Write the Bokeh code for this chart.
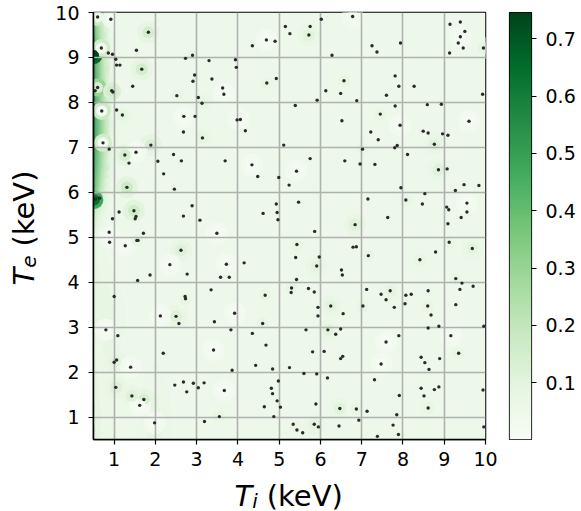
import numpy as np
from bokeh.plotting import figure
from bokeh.models import LinearColorMapper, FixedTicker, Range1d, ColumnDataSource
from bokeh.layouts import row, column
from bokeh.palettes import Greens256
from bokeh.core.properties import value
from bokeh.embed import file_html
from bokeh.resources import INLINE

# ---- sampled (Ti, Te) points in keV ----
ti = [0.60, 0.92, 1.83, 0.69, 0.86, 0.96, 1.54, 2.90, 2.73, 1.04, 1.06, 1.14, 1.67, 3.30, 3.94, 3.96,
      2.95, 2.91, 3.37, 1.45, 0.60, 0.54, 0.94, 0.97, 2.52, 3.63, 3.66, 3.04, 3.13, 4.70, 4.93, 5.15,
      5.26, 4.35, 4.69, 4.90, 0.70, 1.06, 1.20, 2.69, 2.96, 3.98, 4.06, 4.18, 2.68, 3.14, 0.73, 0.88,
      1.89, 5.11, 1.26, 1.53, 2.44, 2.63, 2.06, 1.36, 3.69, 4.34, 4.48, 2.20, 4.99, 5.24, 1.31, 2.46,
      0.65, 0.55, 2.89, 4.93, 4.95, 4.61, 4.97, 1.12, 1.48, 1.53, 1.51, 0.96, 2.68, 3.08,
      6.78, 6.02, 5.75, 5.72, 7.25, 7.37, 7.94, 6.28, 9.14, 9.39, 9.50, 9.39, 9.34, 9.46, 9.13, 9.95,
      6.57, 6.13, 6.49, 6.88, 5.92, 7.81, 7.90, 8.27, 7.60, 9.93, 5.39, 6.52, 7.81, 7.45, 7.93, 7.22,
      7.40, 7.86, 7.80, 8.59, 8.93, 9.60, 8.49, 8.61, 8.96, 9.09, 8.76, 5.75, 5.42, 6.59, 6.96, 7.32,
      8.11, 8.86, 9.07, 7.95, 9.48, 9.84, 9.27, 8.53, 5.47, 7.15, 8.07, 8.47, 9.06, 9.11, 9.55, 9.55,
      9.41, 7.63, 6.84, 9.09, 7.02,
      0.88, 1.71, 3.49, 0.89, 1.27, 1.55, 1.58, 2.62, 2.35, 2.77, 1.87, 1.57, 3.72, 4.15, 3.58, 3.79,
      3.35, 2.72, 2.73, 1.00, 5.30, 5.29, 4.66, 2.12, 2.50, 2.57, 3.92, 3.43, 0.80, 1.09, 2.19, 3.83,
      4.35, 4.60, 4.68, 3.41, 1.06, 1.00, 1.40, 3.86, 4.43, 4.84, 5.25, 2.47, 2.68, 2.92, 2.76, 3.04,
      3.18, 3.67, 4.98, 4.81, 4.84, 4.95, 4.64, 5.03, 1.04, 1.43, 1.72, 1.62, 1.98, 3.19, 3.55, 4.87,
      5.86, 5.43, 5.40, 5.97, 5.91, 5.42, 6.79, 6.87, 7.16, 6.51, 6.53, 8.79, 8.41, 9.12, 9.68, 9.28,
      9.43, 9.70, 9.38, 5.71, 5.85, 5.94, 5.94, 6.25, 6.55, 7.12, 7.47, 7.69, 7.59, 7.79, 7.03, 8.07,
      8.20, 8.05, 8.61, 8.60, 8.68, 9.28, 5.65, 6.18, 6.37, 6.49, 5.81, 6.09, 6.49, 6.54, 7.59, 7.90,
      8.61, 8.87, 9.16, 9.35, 9.96, 8.44, 8.53, 8.63, 8.89, 7.47, 5.60, 5.91, 6.17, 7.31, 7.91, 8.44,
      8.51, 8.76, 8.87, 9.94, 5.89, 6.47, 6.87, 7.13, 7.85, 8.61, 6.93, 7.76, 7.89, 7.38, 5.34, 5.43,
      5.57, 5.85, 5.95, 6.45, 9.96]
te = [9.90, 9.85, 9.56, 9.21, 9.10, 9.07, 9.16, 9.05, 8.98, 8.96, 8.83, 8.83, 8.74, 8.93, 8.95, 8.78,
      8.61, 8.47, 8.52, 8.36, 8.33, 8.26, 8.26, 8.23, 8.15, 8.32, 8.18, 8.11, 7.98, 8.43, 8.53, 9.69,
      9.53, 9.26, 9.39, 9.36, 7.81, 7.83, 7.72, 7.69, 7.69, 7.61, 7.62, 7.37, 7.34, 7.21, 7.10, 6.96,
      7.05, 7.05, 6.83, 6.89, 6.84, 6.70, 6.69, 6.65, 6.70, 6.61, 6.35, 6.41, 6.33, 6.16, 6.11, 6.07,
      5.87, 5.85, 5.70, 5.74, 5.55, 5.53, 5.39, 5.56, 5.59, 5.46, 5.41, 5.41, 5.47, 5.38,
      9.91, 9.85, 9.69, 9.50, 9.26, 9.12, 9.32, 9.05, 9.74, 9.79, 9.58, 9.46, 9.32, 9.21, 9.10, 9.21,
      8.48, 8.26, 8.20, 8.04, 8.05, 8.59, 8.36, 8.36, 8.16, 8.18, 7.93, 7.59, 7.92, 7.74, 7.49, 7.34,
      7.17, 7.04, 6.99, 7.95, 7.96, 7.58, 7.36, 7.32, 7.30, 7.27, 7.07, 6.75, 6.47, 6.70, 6.63, 6.62,
      6.84, 6.50, 6.52, 6.10, 6.17, 6.15, 6.04, 5.97, 5.78, 5.85, 5.83, 5.74, 5.67, 5.61, 5.76, 5.56,
      5.44, 5.44, 5.28, 5.30, 6.96,
      5.11, 5.09, 5.09, 4.89, 4.81, 4.93, 4.93, 4.71, 4.39, 4.18, 4.16, 4.04, 4.40, 4.43, 4.11, 4.11,
      3.83, 3.68, 3.63, 3.68, 3.87, 3.77, 3.71, 3.25, 3.24, 3.08, 3.31, 3.12, 2.94, 2.81, 2.42, 2.94,
      2.86, 3.08, 2.60, 2.49, 2.27, 2.22, 2.11, 2.04, 2.15, 2.07, 2.10, 1.71, 1.78, 1.75, 1.56, 1.65,
      1.76, 1.59, 1.80, 1.64, 1.52, 1.36, 1.23, 1.22, 1.66, 1.47, 1.39, 1.26, 0.87, 0.90, 1.01, 1.01,
      5.13, 4.84, 4.55, 4.56, 4.36, 4.06, 4.78, 4.79, 4.59, 4.27, 4.16, 4.67, 4.50, 4.89, 4.75, 4.08,
      3.98, 3.91, 3.84, 3.86, 3.78, 3.44, 3.25, 3.47, 3.30, 3.84, 3.73, 3.81, 3.61, 3.44, 3.47, 3.71,
      3.73, 3.52, 3.81, 3.47, 3.27, 3.50, 2.94, 2.94, 2.84, 2.96, 2.45, 2.46, 2.30, 2.35, 2.67, 2.81,
      2.98, 3.02, 2.81, 2.42, 3.02, 2.33, 2.21, 2.06, 2.30, 2.18, 1.97, 1.96, 1.87, 1.83, 1.48, 1.64,
      1.47, 1.61, 1.67, 1.60, 1.29, 1.19, 1.18, 1.13, 1.05, 1.20, 0.93, 0.82, 0.61, 0.57, 0.84, 0.71,
      0.65, 0.84, 0.78, 0.80, 0.78]

# ---- field on a coarse (Ti, Te) mesh ----
field_ti = [0.5, 0.55, 0.6, 0.7, 0.8, 0.9, 1.0, 1.2, 1.5, 2.0, 2.5, 3.0, 10.0]
field_te = [0.5, 1.0, 1.5, 2.0, 2.5, 3.0, 3.5, 4.0, 4.5, 5.0,
            5.5, 6.0, 6.5, 7.0, 7.5, 8.0, 8.5, 9.0, 9.5, 10.0]
field_bg = 0.045
# values for Ti = 0.5 ... 2.5, one row per Te level (bottom to top)
edge_rows = [
    [0.14, 0.11, 0.09, 0.075, 0.07, 0.065, 0.06, 0.055, 0.06, 0.09, 0.05],
    [0.11, 0.095, 0.085, 0.075, 0.065, 0.06, 0.06, 0.05, 0.05, 0.085, 0.05],
    [0.09, 0.085, 0.08, 0.07, 0.065, 0.06, 0.06, 0.05, 0.05, 0.08, 0.05],
    [0.085, 0.08, 0.075, 0.07, 0.07, 0.075, 0.065, 0.05, 0.05, 0.065, 0.045],
    [0.075, 0.075, 0.075, 0.075, 0.08, 0.085, 0.07, 0.055, 0.05, 0.05, 0.045],
    [0.08, 0.08, 0.075, 0.075, 0.08, 0.09, 0.075, 0.06, 0.05, 0.045, 0.045],
    [0.09, 0.085, 0.08, 0.08, 0.085, 0.09, 0.075, 0.06, 0.05, 0.045, 0.045],
    [0.09, 0.085, 0.08, 0.075, 0.075, 0.07, 0.06, 0.055, 0.05, 0.045, 0.045],
    [0.09, 0.08, 0.075, 0.065, 0.06, 0.055, 0.05, 0.05, 0.05, 0.045, 0.045],
    [0.09, 0.08, 0.07, 0.06, 0.055, 0.05, 0.05, 0.045, 0.045, 0.045, 0.045],
    [0.24, 0.19, 0.14, 0.09, 0.065, 0.05, 0.05, 0.045, 0.045, 0.045, 0.045],
    [0.52, 0.45, 0.36, 0.22, 0.13, 0.08, 0.055, 0.045, 0.045, 0.045, 0.045],
    [0.56, 0.50, 0.43, 0.30, 0.19, 0.11, 0.065, 0.05, 0.045, 0.045, 0.045],
    [0.60, 0.54, 0.47, 0.34, 0.22, 0.13, 0.07, 0.05, 0.045, 0.045, 0.045],
    [0.62, 0.56, 0.49, 0.36, 0.24, 0.14, 0.075, 0.05, 0.045, 0.045, 0.045],
    [0.62, 0.56, 0.48, 0.34, 0.22, 0.13, 0.07, 0.05, 0.045, 0.045, 0.045],
    [0.62, 0.55, 0.46, 0.32, 0.20, 0.12, 0.065, 0.05, 0.045, 0.045, 0.045],
    [0.70, 0.58, 0.46, 0.30, 0.18, 0.11, 0.06, 0.05, 0.045, 0.045, 0.045],
    [0.52, 0.45, 0.37, 0.24, 0.15, 0.09, 0.055, 0.05, 0.045, 0.045, 0.045],
    [0.42, 0.37, 0.30, 0.19, 0.12, 0.075, 0.055, 0.05, 0.045, 0.045, 0.045],
]

# local extrema close to the Ti = 0.5 edge: position, peak value, surrounding ring value
edge_spot_ti = [0.50, 0.52, 0.60, 0.69, 0.60, 0.70, 0.73, 0.92, 0.95]
edge_spot_te = [9.05, 5.83, 9.90, 9.21, 8.33, 7.81, 7.10, 9.85, 8.25]
edge_spot_peak = [0.74, 0.64, 0.06, 0.03, 0.14, 0.01, 0.01, 0.02, 0.16]
edge_spot_ring = [0.66, 0.48, 0.18, 0.16, 0.30, 0.17, 0.16, 0.05, 0.13]

# local extrema around individual samples elsewhere
spot_ti = [1.83, 1.67, 1.89, 1.26, 1.31, 1.48, 1.20, 2.90, 2.52, 3.13, 3.14, 4.70, 5.72,
           6.57, 7.45, 8.76, 8.86, 7.02, 6.84, 9.95, 8.07, 2.62, 2.50, 1.04, 1.43, 1.72, 1.03,
           1.55, 4.60, 4.66, 3.55, 5.30, 5.91, 5.43, 7.16, 8.41, 9.12, 9.68, 9.28, 6.25, 7.69,
           7.03, 8.60, 6.18, 9.35, 6.47, 6.87, 5.39, 5.85, 8.61, 2.73,
           0.80, 1.40, 1.62, 1.98, 2.12, 0.88, 1.27, 2.35, 3.72, 3.92, 3.41, 3.67, 4.02, 4.69,
           4.34, 1.53, 7.93, 9.60, 5.42, 9.55, 7.59, 9.16, 7.47, 3.49, 2.69, 3.66, 6.78, 9.39]
spot_te = [9.56, 8.74, 7.05, 6.83, 6.11, 5.59, 7.72, 9.05, 8.15, 7.98, 7.21, 8.43, 9.50,
           8.48, 7.74, 7.07, 6.50, 6.96, 5.28, 9.21, 5.83, 4.71, 3.24, 1.66, 1.47, 1.39, 2.24,
           4.93, 3.08, 3.71, 1.01, 3.87, 4.36, 4.84, 4.59, 4.50, 4.89, 4.75, 4.08, 3.47, 3.81,
           3.47, 3.47, 2.94, 2.42, 1.19, 1.18, 0.78, 0.84, 1.20, 3.63,
           2.94, 2.11, 1.26, 0.87, 3.25, 5.00, 4.81, 4.39, 4.40, 3.31, 2.49, 1.59, 7.62, 9.39,
           6.61, 6.89, 7.49, 7.58, 6.47, 5.76, 2.67, 2.81, 2.18, 5.09, 7.69, 8.18, 9.91, 9.46]
spot_peak = [0.15, 0.15, 0.14, 0.14, 0.17, 0.16, 0.09, 0.08, 0.08, 0.09, 0.09, 0.08, 0.11,
             0.08, 0.08, 0.11, 0.11, 0.08, 0.12, 0.09, 0.08, 0.12, 0.12, 0.12, 0.12, 0.14, 0.10,
             0.08, 0.08, 0.08, 0.08, 0.08, 0.10, 0.08, 0.08, 0.08, 0.08, 0.10, 0.08, 0.10, 0.09,
             0.08, 0.08, 0.11, 0.08, 0.11, 0.08, 0.08, 0.10, 0.08, 0.08] + [0.015] * 28
spot_ring = [0.09, 0.09, 0.09, 0.09, 0.10, 0.10, 0.065, 0.06, 0.06, 0.065, 0.065, 0.06, 0.075,
             0.06, 0.06, 0.075, 0.075, 0.06, 0.08, 0.06, 0.06, 0.08, 0.08, 0.08, 0.08, 0.09, 0.08,
             0.06, 0.06, 0.06, 0.06, 0.06, 0.07, 0.06, 0.06, 0.06, 0.06, 0.07, 0.06, 0.07, 0.065,
             0.06, 0.06, 0.075, 0.06, 0.075, 0.06, 0.06, 0.07, 0.06, 0.06] + [0.03] * 28

cbar_low, cbar_high = 0.001, 0.746
cbar_ticks = [0.1, 0.2, 0.3, 0.4, 0.5, 0.6, 0.7]
axis_ticks = [1, 2, 3, 4, 5, 6, 7, 8, 9, 10]

FONT = "DejaVu Sans"
palette = list(reversed(Greens256))
mapper = LinearColorMapper(palette=palette, low=cbar_low, high=cbar_high)

z = np.array([r + [field_bg, field_bg] for r in edge_rows])
levels = np.linspace(cbar_low, cbar_high, 41)
band_colors = []
for a, b in zip(levels[:-1], levels[1:]):
    t = ((a + b) / 2 - cbar_low) / (cbar_high - cbar_low)
    band_colors.append(palette[min(255, int(round(t * 255)))])

# ---- main panel ----
p = figure(width=455, height=480, x_range=Range1d(0.5, 10), y_range=Range1d(0.5, 10),
           title=None, output_backend="svg", toolbar_location=None,
           min_border_left=48, min_border_right=15, min_border_top=12, min_border_bottom=40)

cr = p.contour(x=field_ti, y=field_te, z=z, levels=levels,
               fill_color=band_colors, line_color=None)
cr.level = "image"

spots = ColumnDataSource(dict(x=spot_ti, y=spot_te, peak=spot_peak, ring=spot_ring))
edge_spots = ColumnDataSource(dict(x=edge_spot_ti, y=edge_spot_te,
                                   peak=edge_spot_peak, ring=edge_spot_ring))
halo_renderers = [
    p.scatter("x", "y", source=spots, size=22, line_color=None,
              fill_color={"field": "ring", "transform": mapper}),
    p.scatter("x", "y", source=spots, size=12, line_color=None,
              fill_color={"field": "peak", "transform": mapper}),
    p.scatter("x", "y", source=edge_spots, size=18, line_color=None,
              fill_color={"field": "ring", "transform": mapper}),
    p.scatter("x", "y", source=edge_spots, size=11, line_color=None,
              fill_color={"field": "peak", "transform": mapper}),
]
for r in halo_renderers:
    r.level = "image"

p.scatter(ti, te, size=3.4, fill_color="#2a2a2a", line_color=None)

p.grid.grid_line_color = "#b0b0b0"
p.grid.grid_line_width = 1.6
p.xaxis.ticker = FixedTicker(ticks=axis_ticks)
p.yaxis.ticker = FixedTicker(ticks=axis_ticks)
p.xgrid.ticker = FixedTicker(ticks=axis_ticks)
p.ygrid.ticker = FixedTicker(ticks=axis_ticks)
for ax in (p.xaxis, p.yaxis):
    ax.minor_tick_line_color = None
    ax.major_tick_in = 0
    ax.major_tick_out = 5
    ax.major_tick_line_width = 1.2
    ax.major_tick_line_color = "black"
    ax.axis_line_width = 1.5
    ax.axis_line_color = "black"
    ax.major_label_text_font = FONT
    ax.major_label_text_font_size = "19px"
    ax.major_label_text_color = "black"
p.xaxis.major_label_standoff = 7
p.yaxis.major_label_standoff = 9
p.outline_line_color = "black"
p.outline_line_width = 1.5
p.outline_line_alpha = 1.0

# ---- colour bar ----
cb = figure(width=81, height=480, x_range=Range1d(0, 1), y_range=Range1d(cbar_low, cbar_high),
            title=None, output_backend="svg", toolbar_location=None,
            x_axis_location=None, y_axis_location="right",
            min_border_left=9, min_border_right=50, min_border_top=11, min_border_bottom=41)
grad = np.linspace(cbar_low, cbar_high, 256).reshape(256, 1)
cb.image(image=[grad], x=0, y=cbar_low, dw=1, dh=cbar_high - cbar_low, color_mapper=mapper)
cb.grid.visible = False
cb.yaxis.ticker = FixedTicker(ticks=cbar_ticks)
cb.yaxis.minor_tick_line_color = None
cb.yaxis.major_tick_in = 0
cb.yaxis.major_tick_out = 5
cb.yaxis.major_tick_line_width = 1.2
cb.yaxis.axis_line_color = None
cb.yaxis.major_label_text_font = FONT
cb.yaxis.major_label_text_font_size = "19px"
cb.yaxis.major_label_text_color = "black"
cb.yaxis.major_label_standoff = 9
cb.outline_line_color = "black"
cb.outline_line_width = 1.2
cb.outline_line_alpha = 1.0


def text_strip(width, height):
    f = figure(frame_width=width, frame_height=height,
               x_range=Range1d(0, width), y_range=Range1d(0, height),
               title=None, output_backend="svg", toolbar_location=None,
               x_axis_location=None, y_axis_location=None,
               min_border_left=0, min_border_right=0, min_border_top=0, min_border_bottom=0)
    f.grid.visible = False
    f.outline_line_color = None
    return f


def put(f, x, y, text, size, italic=False, angle=0.0):
    f.text(x=[x], y=[y], text=[text], angle=angle, text_font=value(FONT),
           text_font_size=size, text_font_style="italic" if italic else "normal",
           text_color="black", text_align="left", text_baseline="alphabetic")


# y title: T_e (keV), read bottom to top
ylab = text_strip(45, 480)
put(ylab, 23.5, 207, "T", "29px", italic=True, angle=np.pi / 2)
put(ylab, 28.5, 224.7, "e", "20px", italic=True, angle=np.pi / 2)
put(ylab, 23.5, 245.9, "(keV)", "29px", angle=np.pi / 2)

# x title: T_i (keV)
xlab = text_strip(581, 31)
put(xlab, 234, 16, "T", "29px", italic=True)
put(xlab, 251.7, 11, "i", "20px", italic=True)
put(xlab, 266.3, 16, "(keV)", "29px")

layout = column(row(ylab, p, cb), xlab)
open("out.html", "w").write(file_html(layout, INLINE))
